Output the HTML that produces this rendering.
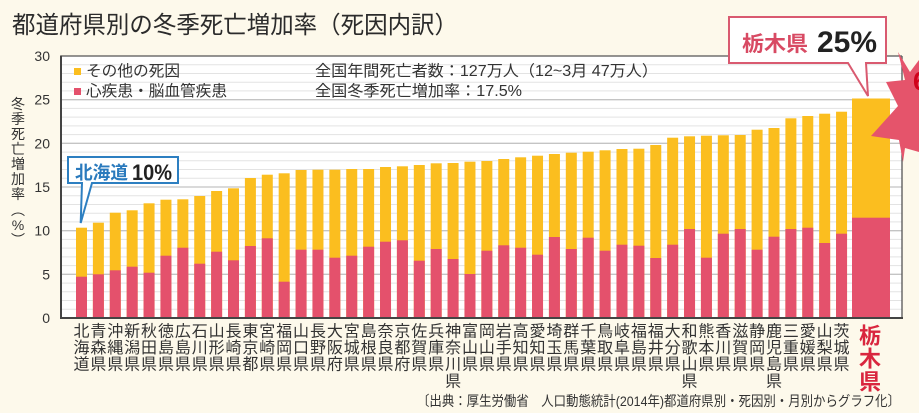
<!DOCTYPE html>
<html><head><meta charset="utf-8">
<style>
html,body{margin:0;padding:0;background:#fdf9eb;}
svg{display:block;}
text{font-family:"Liberation Sans","Noto Sans CJK JP",sans-serif;}
</style></head>
<body>
<svg width="919" height="413" viewBox="0 0 919 413" xmlns="http://www.w3.org/2000/svg">
<rect x="0" y="0" width="919" height="413" fill="#fdf9eb"/>
<!-- title -->
<text x="12" y="33" font-size="24" fill="#2b2b2b" textLength="446" lengthAdjust="spacingAndGlyphs">都道府県別の冬季死亡増加率（死因内訳）</text>

<!-- plot bg -->
<rect x="61" y="56" width="841" height="262" fill="#ffffff"/>
<g stroke="#e3e3e3" stroke-width="1">
<line x1="61" x2="902" y1="309.27" y2="309.27"/><line x1="61" x2="902" y1="300.53" y2="300.53"/><line x1="61" x2="902" y1="291.8" y2="291.8"/><line x1="61" x2="902" y1="283.07" y2="283.07"/>
<line x1="61" x2="902" y1="265.6" y2="265.6"/><line x1="61" x2="902" y1="256.87" y2="256.87"/><line x1="61" x2="902" y1="248.13" y2="248.13"/><line x1="61" x2="902" y1="239.4" y2="239.4"/>
<line x1="61" x2="902" y1="221.93" y2="221.93"/><line x1="61" x2="902" y1="213.2" y2="213.2"/><line x1="61" x2="902" y1="204.47" y2="204.47"/><line x1="61" x2="902" y1="195.73" y2="195.73"/>
<line x1="61" x2="902" y1="178.27" y2="178.27"/><line x1="61" x2="902" y1="169.53" y2="169.53"/><line x1="61" x2="902" y1="160.8" y2="160.8"/><line x1="61" x2="902" y1="152.07" y2="152.07"/>
<line x1="61" x2="902" y1="134.6" y2="134.6"/><line x1="61" x2="902" y1="125.87" y2="125.87"/><line x1="61" x2="902" y1="117.13" y2="117.13"/><line x1="61" x2="902" y1="108.4" y2="108.4"/>
<line x1="61" x2="902" y1="90.93" y2="90.93"/><line x1="61" x2="902" y1="82.2" y2="82.2"/><line x1="61" x2="902" y1="73.47" y2="73.47"/><line x1="61" x2="902" y1="64.73" y2="64.73"/>
</g>
<g stroke="#c4c4c4" stroke-width="1.3">
<line x1="61" x2="902" y1="274.33" y2="274.33"/><line x1="61" x2="902" y1="230.67" y2="230.67"/><line x1="61" x2="902" y1="187" y2="187"/><line x1="61" x2="902" y1="143.33" y2="143.33"/><line x1="61" x2="902" y1="99.67" y2="99.67"/>
</g>

<!-- bars -->
<g fill="#fbbe1f">
<rect x="76" y="227.7" width="11" height="90.3"/>
<rect x="92.89" y="222.7" width="11" height="95.3"/>
<rect x="109.78" y="212.7" width="11" height="105.3"/>
<rect x="126.67" y="210.3" width="11" height="107.7"/>
<rect x="143.56" y="203.3" width="11" height="114.7"/>
<rect x="160.45" y="199.7" width="11" height="118.3"/>
<rect x="177.34" y="199.3" width="11" height="118.7"/>
<rect x="194.23" y="196" width="11" height="122"/>
<rect x="211.12" y="191" width="11" height="127"/>
<rect x="228.01" y="188.3" width="11" height="129.7"/>
<rect x="244.9" y="178" width="11" height="140"/>
<rect x="261.79" y="174.7" width="11" height="143.3"/>
<rect x="278.68" y="173.3" width="11" height="144.7"/>
<rect x="295.57" y="170" width="11" height="148"/>
<rect x="312.46" y="169.7" width="11" height="148.3"/>
<rect x="329.35" y="169.7" width="11" height="148.3"/>
<rect x="346.24" y="169" width="11" height="149"/>
<rect x="363.13" y="169" width="11" height="149"/>
<rect x="380.02" y="167" width="11" height="151"/>
<rect x="396.91" y="166.3" width="11" height="151.7"/>
<rect x="413.8" y="165" width="11" height="153"/>
<rect x="430.69" y="163.3" width="11" height="154.7"/>
<rect x="447.58" y="163" width="11" height="155"/>
<rect x="464.47" y="161.7" width="11" height="156.3"/>
<rect x="481.36" y="161" width="11" height="157"/>
<rect x="498.25" y="159" width="11" height="159"/>
<rect x="515.14" y="157.3" width="11" height="160.7"/>
<rect x="532.03" y="155.7" width="11" height="162.3"/>
<rect x="548.92" y="154" width="11" height="164"/>
<rect x="565.81" y="152.7" width="11" height="165.3"/>
<rect x="582.7" y="151.7" width="11" height="166.3"/>
<rect x="599.59" y="150.3" width="11" height="167.7"/>
<rect x="616.48" y="149" width="11" height="169"/>
<rect x="633.37" y="148.7" width="11" height="169.3"/>
<rect x="650.26" y="145" width="11" height="173"/>
<rect x="667.15" y="137.7" width="11" height="180.3"/>
<rect x="684.04" y="136.3" width="11" height="181.7"/>
<rect x="700.93" y="135.7" width="11" height="182.3"/>
<rect x="717.82" y="135.3" width="11" height="182.7"/>
<rect x="734.71" y="135" width="11" height="183"/>
<rect x="751.6" y="129.7" width="11" height="188.3"/>
<rect x="768.49" y="128" width="11" height="190"/>
<rect x="785.38" y="118.3" width="11" height="199.7"/>
<rect x="802.27" y="116" width="11" height="202"/>
<rect x="819.16" y="113.7" width="11" height="204.3"/>
<rect x="836.05" y="111.7" width="11" height="206.3"/>
<rect x="852" y="98.5" width="38" height="219.5"/>
</g>
<g fill="#e4516c">
<rect x="76" y="276.7" width="11" height="41.3"/>
<rect x="92.89" y="274.3" width="11" height="43.7"/>
<rect x="109.78" y="270.3" width="11" height="47.7"/>
<rect x="126.67" y="266.7" width="11" height="51.3"/>
<rect x="143.56" y="272.7" width="11" height="45.3"/>
<rect x="160.45" y="255.7" width="11" height="62.3"/>
<rect x="177.34" y="247.7" width="11" height="70.3"/>
<rect x="194.23" y="263.7" width="11" height="54.3"/>
<rect x="211.12" y="251.7" width="11" height="66.3"/>
<rect x="228.01" y="260.3" width="11" height="57.7"/>
<rect x="244.9" y="246" width="11" height="72"/>
<rect x="261.79" y="238.3" width="11" height="79.7"/>
<rect x="278.68" y="281.7" width="11" height="36.3"/>
<rect x="295.57" y="249.7" width="11" height="68.3"/>
<rect x="312.46" y="249.7" width="11" height="68.3"/>
<rect x="329.35" y="257.7" width="11" height="60.3"/>
<rect x="346.24" y="255.7" width="11" height="62.3"/>
<rect x="363.13" y="246.7" width="11" height="71.3"/>
<rect x="380.02" y="241.7" width="11" height="76.3"/>
<rect x="396.91" y="240.3" width="11" height="77.7"/>
<rect x="413.8" y="260.7" width="11" height="57.3"/>
<rect x="430.69" y="249" width="11" height="69"/>
<rect x="447.58" y="259" width="11" height="59"/>
<rect x="464.47" y="274" width="11" height="44"/>
<rect x="481.36" y="250.7" width="11" height="67.3"/>
<rect x="498.25" y="245.3" width="11" height="72.7"/>
<rect x="515.14" y="247.7" width="11" height="70.3"/>
<rect x="532.03" y="254.7" width="11" height="63.3"/>
<rect x="548.92" y="237" width="11" height="81"/>
<rect x="565.81" y="249" width="11" height="69"/>
<rect x="582.7" y="237.7" width="11" height="80.3"/>
<rect x="599.59" y="250.7" width="11" height="67.3"/>
<rect x="616.48" y="244.7" width="11" height="73.3"/>
<rect x="633.37" y="245.7" width="11" height="72.3"/>
<rect x="650.26" y="258" width="11" height="60"/>
<rect x="667.15" y="244.7" width="11" height="73.3"/>
<rect x="684.04" y="229" width="11" height="89"/>
<rect x="700.93" y="257.7" width="11" height="60.3"/>
<rect x="717.82" y="233.7" width="11" height="84.3"/>
<rect x="734.71" y="229" width="11" height="89"/>
<rect x="751.6" y="249.7" width="11" height="68.3"/>
<rect x="768.49" y="236.7" width="11" height="81.3"/>
<rect x="785.38" y="229" width="11" height="89"/>
<rect x="802.27" y="227.7" width="11" height="90.3"/>
<rect x="819.16" y="243" width="11" height="75"/>
<rect x="836.05" y="233.7" width="11" height="84.3"/>
<rect x="852" y="217.7" width="38" height="100.3"/>
</g>

<!-- frame -->
<line x1="61" y1="56" x2="902" y2="56" stroke="#555" stroke-width="1.3"/>
<line x1="902" y1="56" x2="902" y2="318" stroke="#555" stroke-width="1.3"/>
<line x1="61" y1="55.5" x2="61" y2="319" stroke="#444" stroke-width="2"/>
<line x1="60" y1="318" x2="903" y2="318" stroke="#444" stroke-width="2"/>

<!-- y ticks -->
<g font-size="14" fill="#333" text-anchor="end">
<text x="50" y="61">30</text>
<text x="50" y="104.7">25</text>
<text x="50" y="148.3">20</text>
<text x="50" y="192">15</text>
<text x="50" y="235.7">10</text>
<text x="50" y="279.3">5</text>
<text x="50" y="323">0</text>
</g>

<!-- y title -->
<g font-size="14" fill="#333" text-anchor="middle">
<text x="18" y="109">冬</text>
<text x="18" y="124">季</text>
<text x="18" y="139">死</text>
<text x="18" y="154">亡</text>
<text x="18" y="169">増</text>
<text x="18" y="184">加</text>
<text x="18" y="199">率</text>
<text x="18" y="215">︵</text>
<text x="18" y="230">%</text>
<text x="18" y="245">︶</text>
</g>

<!-- legend -->
<rect x="74" y="68" width="7" height="7" fill="#fbbe1f"/>
<rect x="74" y="88" width="7" height="7" fill="#e4516c"/>
<g font-size="15.5" fill="#333">
<text x="86" y="76" textLength="94" lengthAdjust="spacingAndGlyphs">その他の死因</text>
<text x="86" y="96" textLength="141" lengthAdjust="spacingAndGlyphs">心疾患・脳血管疾患</text>
<text x="315" y="76" textLength="343" lengthAdjust="spacingAndGlyphs">全国年間死亡者数：127万人（12~3月 47万人）</text>
<text x="315" y="96" textLength="207" lengthAdjust="spacingAndGlyphs">全国冬季死亡増加率：17.5%</text>
</g>

<!-- x labels -->
<g font-size="16" fill="#333" text-anchor="middle">
<text x="81.5" y="336.5">北<tspan x="81.5" dy="16.6">海</tspan><tspan x="81.5" dy="16.6">道</tspan></text>
<text x="98.39" y="336.5">青<tspan x="98.39" dy="16.6">森</tspan><tspan x="98.39" dy="16.6">県</tspan></text>
<text x="115.28" y="336.5">沖<tspan x="115.28" dy="16.6">縄</tspan><tspan x="115.28" dy="16.6">県</tspan></text>
<text x="132.17" y="336.5">新<tspan x="132.17" dy="16.6">潟</tspan><tspan x="132.17" dy="16.6">県</tspan></text>
<text x="149.06" y="336.5">秋<tspan x="149.06" dy="16.6">田</tspan><tspan x="149.06" dy="16.6">県</tspan></text>
<text x="165.95" y="336.5">徳<tspan x="165.95" dy="16.6">島</tspan><tspan x="165.95" dy="16.6">県</tspan></text>
<text x="182.84" y="336.5">広<tspan x="182.84" dy="16.6">島</tspan><tspan x="182.84" dy="16.6">県</tspan></text>
<text x="199.73" y="336.5">石<tspan x="199.73" dy="16.6">川</tspan><tspan x="199.73" dy="16.6">県</tspan></text>
<text x="216.62" y="336.5">山<tspan x="216.62" dy="16.6">形</tspan><tspan x="216.62" dy="16.6">県</tspan></text>
<text x="233.51" y="336.5">長<tspan x="233.51" dy="16.6">崎</tspan><tspan x="233.51" dy="16.6">県</tspan></text>
<text x="250.4" y="336.5">東<tspan x="250.4" dy="16.6">京</tspan><tspan x="250.4" dy="16.6">都</tspan></text>
<text x="267.29" y="336.5">宮<tspan x="267.29" dy="16.6">崎</tspan><tspan x="267.29" dy="16.6">県</tspan></text>
<text x="284.18" y="336.5">福<tspan x="284.18" dy="16.6">岡</tspan><tspan x="284.18" dy="16.6">県</tspan></text>
<text x="301.07" y="336.5">山<tspan x="301.07" dy="16.6">口</tspan><tspan x="301.07" dy="16.6">県</tspan></text>
<text x="317.96" y="336.5">長<tspan x="317.96" dy="16.6">野</tspan><tspan x="317.96" dy="16.6">県</tspan></text>
<text x="334.85" y="336.5">大<tspan x="334.85" dy="16.6">阪</tspan><tspan x="334.85" dy="16.6">府</tspan></text>
<text x="351.74" y="336.5">宮<tspan x="351.74" dy="16.6">城</tspan><tspan x="351.74" dy="16.6">県</tspan></text>
<text x="368.63" y="336.5">島<tspan x="368.63" dy="16.6">根</tspan><tspan x="368.63" dy="16.6">県</tspan></text>
<text x="385.52" y="336.5">奈<tspan x="385.52" dy="16.6">良</tspan><tspan x="385.52" dy="16.6">県</tspan></text>
<text x="402.41" y="336.5">京<tspan x="402.41" dy="16.6">都</tspan><tspan x="402.41" dy="16.6">府</tspan></text>
<text x="419.3" y="336.5">佐<tspan x="419.3" dy="16.6">賀</tspan><tspan x="419.3" dy="16.6">県</tspan></text>
<text x="436.19" y="336.5">兵<tspan x="436.19" dy="16.6">庫</tspan><tspan x="436.19" dy="16.6">県</tspan></text>
<text x="453.08" y="336.5">神<tspan x="453.08" dy="16.6">奈</tspan><tspan x="453.08" dy="16.6">川</tspan><tspan x="453.08" dy="16.6">県</tspan></text>
<text x="469.97" y="336.5">富<tspan x="469.97" dy="16.6">山</tspan><tspan x="469.97" dy="16.6">県</tspan></text>
<text x="486.86" y="336.5">岡<tspan x="486.86" dy="16.6">山</tspan><tspan x="486.86" dy="16.6">県</tspan></text>
<text x="503.75" y="336.5">岩<tspan x="503.75" dy="16.6">手</tspan><tspan x="503.75" dy="16.6">県</tspan></text>
<text x="520.64" y="336.5">高<tspan x="520.64" dy="16.6">知</tspan><tspan x="520.64" dy="16.6">県</tspan></text>
<text x="537.53" y="336.5">愛<tspan x="537.53" dy="16.6">知</tspan><tspan x="537.53" dy="16.6">県</tspan></text>
<text x="554.42" y="336.5">埼<tspan x="554.42" dy="16.6">玉</tspan><tspan x="554.42" dy="16.6">県</tspan></text>
<text x="571.31" y="336.5">群<tspan x="571.31" dy="16.6">馬</tspan><tspan x="571.31" dy="16.6">県</tspan></text>
<text x="588.2" y="336.5">千<tspan x="588.2" dy="16.6">葉</tspan><tspan x="588.2" dy="16.6">県</tspan></text>
<text x="605.09" y="336.5">鳥<tspan x="605.09" dy="16.6">取</tspan><tspan x="605.09" dy="16.6">県</tspan></text>
<text x="621.98" y="336.5">岐<tspan x="621.98" dy="16.6">阜</tspan><tspan x="621.98" dy="16.6">県</tspan></text>
<text x="638.87" y="336.5">福<tspan x="638.87" dy="16.6">島</tspan><tspan x="638.87" dy="16.6">県</tspan></text>
<text x="655.76" y="336.5">福<tspan x="655.76" dy="16.6">井</tspan><tspan x="655.76" dy="16.6">県</tspan></text>
<text x="672.65" y="336.5">大<tspan x="672.65" dy="16.6">分</tspan><tspan x="672.65" dy="16.6">県</tspan></text>
<text x="689.54" y="336.5">和<tspan x="689.54" dy="16.6">歌</tspan><tspan x="689.54" dy="16.6">山</tspan><tspan x="689.54" dy="16.6">県</tspan></text>
<text x="706.43" y="336.5">熊<tspan x="706.43" dy="16.6">本</tspan><tspan x="706.43" dy="16.6">県</tspan></text>
<text x="723.32" y="336.5">香<tspan x="723.32" dy="16.6">川</tspan><tspan x="723.32" dy="16.6">県</tspan></text>
<text x="740.21" y="336.5">滋<tspan x="740.21" dy="16.6">賀</tspan><tspan x="740.21" dy="16.6">県</tspan></text>
<text x="757.1" y="336.5">静<tspan x="757.1" dy="16.6">岡</tspan><tspan x="757.1" dy="16.6">県</tspan></text>
<text x="773.99" y="336.5">鹿<tspan x="773.99" dy="16.6">児</tspan><tspan x="773.99" dy="16.6">島</tspan><tspan x="773.99" dy="16.6">県</tspan></text>
<text x="790.88" y="336.5">三<tspan x="790.88" dy="16.6">重</tspan><tspan x="790.88" dy="16.6">県</tspan></text>
<text x="807.77" y="336.5">愛<tspan x="807.77" dy="16.6">媛</tspan><tspan x="807.77" dy="16.6">県</tspan></text>
<text x="824.66" y="336.5">山<tspan x="824.66" dy="16.6">梨</tspan><tspan x="824.66" dy="16.6">県</tspan></text>
<text x="841.55" y="336.5">茨<tspan x="841.55" dy="16.6">城</tspan><tspan x="841.55" dy="16.6">県</tspan></text>
</g>
<g font-size="22" font-weight="bold" fill="#d9263e" text-anchor="middle">
<text x="870" y="343.5">栃</text>
<text x="870" y="366.5">木</text>
<text x="870" y="389.5">県</text>
</g>

<!-- source -->
<text x="417" y="406" font-size="14" fill="#333" textLength="483" lengthAdjust="spacingAndGlyphs">〔出典：厚生労働省　人口動態統計(2014年)都道府県別・死因別・月別からグラフ化〕</text>

<!-- Hokkaido callout -->
<polygon points="68,157 178,157 178,183 92,183 80.7,223 82,183 68,183" fill="#ffffff" stroke="#2d7fc1" stroke-width="2" stroke-linejoin="miter"/>
<text x="75" y="179" font-size="18" font-weight="bold" fill="#2a7abd" textLength="53" lengthAdjust="spacingAndGlyphs">北海道</text>
<text x="132" y="180" font-size="22" font-weight="bold" fill="#222" textLength="40" lengthAdjust="spacingAndGlyphs">10%</text>

<!-- Tochigi callout -->
<polygon points="729,17 886,17 886,63 866,63 868,96 848,63 729,63" fill="#ffffff" stroke="#d95a70" stroke-width="2"/>
<text x="742" y="51" font-size="21" font-weight="bold" fill="#d84a63" textLength="66" lengthAdjust="spacingAndGlyphs">栃木県</text>
<text x="817" y="52" font-size="30" font-weight="bold" fill="#222" textLength="60" lengthAdjust="spacingAndGlyphs">25%</text>

<!-- burst -->
<polygon points="898,52 910,72 919,60 919,152 905,148 903,162 899,140 871,136 898,106 886,82 905,80" fill="#e5546b"/>
<text x="913" y="90" font-size="26" font-weight="bold" fill="#d0021b">6</text>
</svg>
</body></html>
